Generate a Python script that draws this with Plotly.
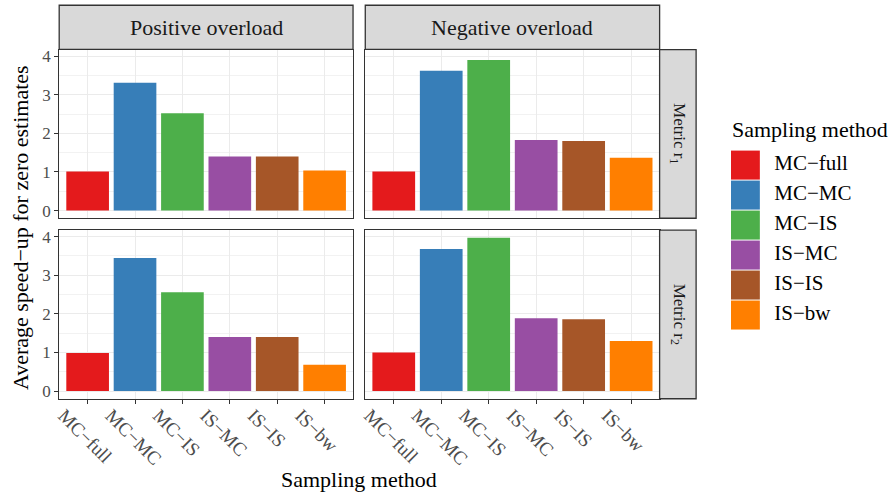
import plotly.graph_objects as go

methods = ["MC\u2212full", "MC\u2212MC", "MC\u2212IS", "IS\u2212MC", "IS\u2212IS", "IS\u2212bw"]
colors = ["#E41A1C", "#377EB8", "#4DAF4A", "#984EA3", "#A65628", "#FF7F00"]
pos_r1 = [1.01, 3.31, 2.52, 1.40, 1.40, 1.04]
neg_r1 = [1.01, 3.62, 3.90, 1.83, 1.80, 1.37]
pos_r2 = [0.99, 3.45, 2.56, 1.40, 1.40, 0.68]
neg_r2 = [1.00, 3.68, 3.97, 1.89, 1.86, 1.30]
col_labels = ["Positive overload", "Negative overload"]
row_labels = ["Metric r<sub>1</sub>", "Metric r<sub>2</sub>"]
legend_title = "Sampling method"
x_title = "Sampling method"
y_title = "Average speed\u2212up for zero estimates"

W, H = 894, 496
FONT = "Liberation Serif"

# panel pixel boxes
xpix = [(54.5, 350.0), (362.3, 658.3)]
ypix = [(48.0, 218.0), (230.0, 400.0)]

def xd(a, b):
    return [a / W, b / W]

def yd(top, bot):
    return [1 - bot / H, 1 - top / H]

fig = go.Figure()
panels = [(0, 0, pos_r1), (0, 1, neg_r1), (1, 0, pos_r2), (1, 1, neg_r2)]
allvals = pos_r1 + neg_r1 + pos_r2 + neg_r2
ymax = max(allvals)
yrange = [-0.05 * ymax, ymax * 1.05]

layout = {}
for k, (r, c, vals) in enumerate(panels, start=1):
    xa = "x" if k == 1 else f"x{k}"
    ya = "y" if k == 1 else f"y{k}"
    fig.add_trace(go.Bar(x=methods, y=vals, marker=dict(color=colors, line=dict(width=0)),
                         xaxis=xa, yaxis=ya, showlegend=False, hoverinfo="x+y"))
    xkey = "xaxis" if k == 1 else f"xaxis{k}"
    ykey = "yaxis" if k == 1 else f"yaxis{k}"
    layout[xkey] = dict(
        domain=xd(*xpix[c]), anchor=ya, type="category", categoryorder="array",
        categoryarray=methods, range=[-0.6, 5.6],
        showgrid=True, gridcolor="#EBEBEB", gridwidth=1.1,
        showline=True, mirror=True, linecolor="#333333", linewidth=1.3,
        ticks="outside" if r == 1 else "", ticklen=4, tickcolor="#333333", tickwidth=1.2,
        showticklabels=(r == 1), tickangle=45, ticklabelshift=-24, ticklabelstandoff=-7,
        tickfont=dict(family=FONT, size=19, color="#4D4D4D"), zeroline=False,
    )
    layout[ykey] = dict(
        domain=yd(*ypix[r]), anchor=xa, range=yrange, dtick=1, tick0=0,
        showgrid=True, gridcolor="#EBEBEB", gridwidth=1.1,
        minor=dict(dtick=0.5, showgrid=True, gridcolor="#F2F2F2", gridwidth=0.6),
        showline=True, mirror=True, linecolor="#333333", linewidth=1.3,
        ticks="outside" if c == 0 else "", ticklen=4, tickcolor="#333333", tickwidth=1.2,
        showticklabels=(c == 0),
        tickfont=dict(family=FONT, size=17, color="#4D4D4D"), zeroline=False,
    )

# custom legend on its own axes
idx = list(range(len(methods)))
fig.add_trace(go.Scatter(x=[0] * len(methods), y=idx, mode="markers",
                         marker=dict(symbol="square", size=29, color=colors, line=dict(width=0)),
                         xaxis="x5", yaxis="y5", showlegend=False, hoverinfo="skip"))
fig.add_trace(go.Scatter(x=[1] * len(methods), y=idx, mode="text", text=methods,
                         textposition="middle right",
                         textfont=dict(family=FONT, size=21, color="#000000"),
                         xaxis="x5", yaxis="y5", showlegend=False, hoverinfo="skip"))
layout["xaxis5"] = dict(domain=xd(730, 894), anchor="y5", range=[-0.5, 5.15], visible=False)
layout["yaxis5"] = dict(domain=yd(149.3, 330.7), anchor="x5", range=[5.5, -0.5], visible=False)

shapes = []
annotations = []
# top strips
for c in range(2):
    x0, x1 = xpix[c]
    shapes.append(dict(type="rect", xref="paper", yref="paper",
                       x0=x0 / W, x1=x1 / W, y0=1 - 47.7 / H, y1=1 - 3.3 / H,
                       fillcolor="#D9D9D9", line=dict(color="#333333", width=1.3), layer="above"))
    annotations.append(dict(xref="paper", yref="paper", x=(x0 + x1) / 2 / W, y=1 - 25.5 / H,
                            text=col_labels[c], showarrow=False,
                            font=dict(family=FONT, size=22, color="#1A1A1A"),
                            xanchor="center", yanchor="middle"))
# right strips
for r in range(2):
    t, b = ypix[r]
    shapes.append(dict(type="rect", xref="paper", yref="paper",
                       x0=658.3 / W, x1=695 / W, y0=1 - b / H, y1=1 - t / H,
                       fillcolor="#D9D9D9", line=dict(color="#333333", width=1.3), layer="above"))
    annotations.append(dict(xref="paper", yref="paper", x=676.6 / W, y=1 - (t + b) / 2 / H,
                            text=row_labels[r], showarrow=False, textangle=90,
                            font=dict(family=FONT, size=17, color="#1A1A1A"),
                            xanchor="center", yanchor="middle"))
# axis titles
annotations.append(dict(xref="paper", yref="paper", x=356 / W, y=1 - 481 / H, text=x_title,
                        showarrow=False, font=dict(family=FONT, size=22, color="#000000"),
                        xanchor="center", yanchor="middle"))
annotations.append(dict(xref="paper", yref="paper", x=15 / W, y=1 - 227 / H, text=y_title,
                        showarrow=False, textangle=-90,
                        font=dict(family=FONT, size=22, color="#000000"),
                        xanchor="center", yanchor="middle"))
annotations.append(dict(xref="paper", yref="paper", x=729 / W, y=1 - 129 / H, text=legend_title,
                        showarrow=False, font=dict(family=FONT, size=22, color="#000000"),
                        xanchor="left", yanchor="middle"))

fig.update_layout(width=W, height=H, margin=dict(l=0, r=0, t=0, b=0),
                  paper_bgcolor="white", plot_bgcolor="white", bargap=0.1,
                  shapes=shapes, annotations=annotations, showlegend=False,
                  font=dict(family=FONT), **layout)
fig.write_html("out.html")
